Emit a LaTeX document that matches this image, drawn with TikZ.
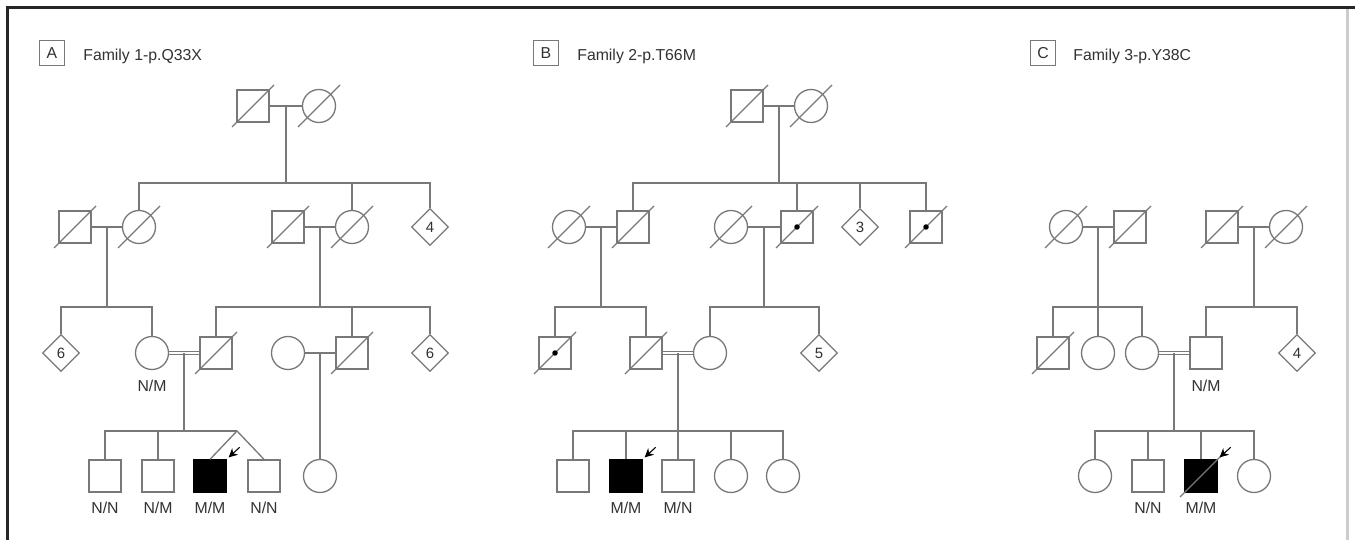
\documentclass[tikz,border=0pt]{standalone}
\usepackage{fontspec}
\setmainfont{Liberation Sans}
\usetikzlibrary{shapes.geometric,calc,arrows.meta}
\definecolor{lc}{RGB}{120,120,120}
\definecolor{tc}{RGB}{50,50,50}
\newcommand{\deadmark}[1]{\draw[ln] ($(#1)+(-21,21)$) -- ($(#1)+(21,-21)$);}
\newcommand{\carrierdot}[1]{\fill[black] (#1) circle[radius=0.055cm];}
\newcommand{\probarrow}[1]{\draw[black,line width=0.6pt,-{Stealth[length=5pt,width=5pt]}] ($(#1.north east)+(13,-12)$) -- ($(#1.north east)+(2,-2)$);}
\newcommand{\dblmar}[2]{\draw[ln,line width=0.55pt] ($(#1.east)+(0,-1.3)$) -- ($(#2.west)+(0,-1.3)$); \draw[ln,line width=0.55pt] ($(#1.east)+(0,1.3)$) -- ($(#2.west)+(0,1.3)$);}
\begin{document}
\begin{tikzpicture}[x=0.02cm,y=-0.02cm,
  ln/.style={draw=lc,line width=0.75pt},
  sq/.style={draw=lc,line width=0.75pt,rectangle,minimum size=0.64cm,inner sep=0pt},
  ci/.style={draw=lc,line width=0.75pt,circle,minimum size=0.66cm,inner sep=0pt},
  di/.style={draw=lc,line width=0.75pt,diamond,minimum size=0.74cm,inner sep=0pt,text=tc,font=\fontsize{8.5}{9}\selectfont},
  aff/.style={fill=black,draw=black},
  lab/.style={text=tc,font=\fontsize{9}{10}\selectfont,inner sep=0pt},
  pbox/.style={draw=lc,line width=0.6pt,minimum size=0.5cm,inner sep=0pt,text=tc,font=\fontsize{9}{10}\selectfont}]
\useasboundingbox (0,0) rectangle (1355,540);
\fill[white] (0,0) rectangle (1355,540);
% frame
\draw[black!85,line width=1.5pt] (7.3,540) -- (7.3,7.3) -- (1355,7.3);
\draw[black!20,line width=1.7pt] (1347,9) -- (1347,540);
% titles
\node[pbox] (bA) at (52,53) {A};
\node[lab,anchor=base west] (tA) at (83,61) {Family 1-p.Q33X};
\node[pbox] (bB) at (546,53) {B};
\node[lab,anchor=base west] (tB) at (577,61) {Family 2-p.T66M};
\node[pbox] (bC) at (1043,53) {C};
\node[lab,anchor=base west] (tC) at (1073,61) {Family 3-p.Y38C};
% level coordinates
\coordinate (y1) at (0,183);
\coordinate (y2) at (0,307);
\coordinate (y3) at (0,431);
%================ Panel A
\node[sq] (sA1) at (253,106) {};
\node[ci] (cA1) at (319,106) {};
\node[sq] (sA2) at (75,227) {};
\node[ci] (cA2) at (139,227) {};
\node[sq] (sA3) at (288,227) {};
\node[ci] (cA3) at (352,227) {};
\node[di] (dA1) at (430,227) {4};
\node[di] (dA2) at (61,353) {6};
\node[ci] (cA4) at (152,353) {};
\node[sq] (sA4) at (216,353) {};
\node[ci] (cA5) at (288,353) {};
\node[sq] (sA5) at (352,353) {};
\node[di] (dA3) at (430,353) {6};
\node[sq] (sA6) at (105,476) {};
\node[sq] (sA7) at (158,476) {};
\node[sq,aff] (sA8) at (210,476) {};
\node[sq] (sA9) at (264,476) {};
\node[ci] (cA6) at (320,476) {};
\node[lab,anchor=base] (lA1) at (152,391) {N/M};
\node[lab,anchor=base] (lA2) at (105,513) {N/N};
\node[lab,anchor=base] (lA3) at (158,513) {N/M};
\node[lab,anchor=base] (lA4) at (210,513) {M/M};
\node[lab,anchor=base] (lA5) at (264,513) {N/N};
% marriages
\draw[ln] (sA1) -- (cA1);
\draw[ln] (sA2) -- (cA2);
\draw[ln] (sA3) -- (cA3);
\dblmar{cA4}{sA4}
\draw[ln] (cA5) -- (sA5);
\coordinate (mA1) at ($(sA1)!0.5!(cA1)$);
\coordinate (mA2) at ($(sA2)!0.5!(cA2)$);
\coordinate (mA3) at ($(sA3)!0.5!(cA3)$);
\coordinate (mA4) at ($(cA4)!0.5!(sA4)$);
\coordinate (mA5) at ($(cA5)!0.5!(sA5)$);
% sibships
\draw[ln] (mA1) -- (mA1 |- y1);
\draw[ln] (cA2.north) -- (cA2.north |- y1) -- (dA1.north |- y1) -- (dA1.north);
\draw[ln] (cA3.north) -- (cA3.north |- y1);
\draw[ln] (mA2) -- (mA2 |- y2);
\draw[ln] (dA2.north) -- (dA2.north |- y2) -- (cA4.north |- y2) -- (cA4.north);
\draw[ln] (mA3) -- (mA3 |- y2);
\draw[ln] (sA4.north) -- (sA4.north |- y2) -- (dA3.north |- y2) -- (dA3.north);
\draw[ln] (sA5.north) -- (sA5.north |- y2);
\draw[ln] (mA4) -- (mA4 |- y3);
\coordinate (twA) at (237,431);
\draw[ln] (sA6.north) -- (sA6.north |- twA) -- (twA);
\draw[ln] (sA7.north) -- (sA7.north |- twA);
\draw[ln] (sA8.north) -- (twA) -- (sA9.north);
\draw[ln] (mA5) -- (cA6.north);
\foreach \n in {sA1,cA1,sA2,cA2,sA3,cA3,sA4,sA5} {\deadmark{\n}}
\probarrow{sA8}
%================ Panel B
\node[sq] (sB1) at (747,106) {};
\node[ci] (cB1) at (811,106) {};
\node[ci] (cB2) at (569,227) {};
\node[sq] (sB2) at (633,227) {};
\node[ci] (cB3) at (731,227) {};
\node[sq] (sB3) at (797,227) {};
\node[di] (dB1) at (860,227) {3};
\node[sq] (sB4) at (926,227) {};
\node[sq] (sB5) at (555,353) {};
\node[sq] (sB6) at (646,353) {};
\node[ci] (cB4) at (710,353) {};
\node[di] (dB2) at (819,353) {5};
\node[sq] (sB7) at (573,476) {};
\node[sq,aff] (sB8) at (626,476) {};
\node[sq] (sB9) at (678,476) {};
\node[ci] (cB5) at (731,476) {};
\node[ci] (cB6) at (783,476) {};
\node[lab,anchor=base] (lB1) at (626,513) {M/M};
\node[lab,anchor=base] (lB2) at (678,513) {M/N};
\draw[ln] (sB1) -- (cB1);
\draw[ln] (cB2) -- (sB2);
\draw[ln] (cB3) -- (sB3);
\dblmar{sB6}{cB4}
\coordinate (mB1) at ($(sB1)!0.5!(cB1)$);
\coordinate (mB2) at ($(cB2)!0.5!(sB2)$);
\coordinate (mB3) at ($(cB3)!0.5!(sB3)$);
\coordinate (mB4) at ($(sB6)!0.5!(cB4)$);
\draw[ln] (mB1) -- (mB1 |- y1);
\draw[ln] (sB2.north) -- (sB2.north |- y1) -- (sB4.north |- y1) -- (sB4.north);
\draw[ln] (sB3.north) -- (sB3.north |- y1);
\draw[ln] (dB1.north) -- (dB1.north |- y1);
\draw[ln] (mB2) -- (mB2 |- y2);
\draw[ln] (sB5.north) -- (sB5.north |- y2) -- (sB6.north |- y2) -- (sB6.north);
\draw[ln] (mB3) -- (mB3 |- y2);
\draw[ln] (cB4.north) -- (cB4.north |- y2) -- (dB2.north |- y2) -- (dB2.north);
\draw[ln] (mB4) -- (mB4 |- y3);
\draw[ln] (sB7.north) -- (sB7.north |- y3) -- (cB6.north |- y3) -- (cB6.north);
\draw[ln] (sB8.north) -- (sB8.north |- y3);
\draw[ln] (sB9.north) -- (sB9.north |- y3);
\draw[ln] (cB5.north) -- (cB5.north |- y3);
\foreach \n in {sB1,cB1,cB2,sB2,cB3,sB3,sB4,sB5,sB6} {\deadmark{\n}}
\foreach \n in {sB3,sB4,sB5} {\carrierdot{\n}}
\probarrow{sB8}
%================ Panel C
\node[ci] (cC1) at (1066,227) {};
\node[sq] (sC1) at (1130,227) {};
\node[sq] (sC2) at (1222,227) {};
\node[ci] (cC2) at (1286,227) {};
\node[sq] (sC3) at (1053,353) {};
\node[ci] (cC3) at (1098,353) {};
\node[ci] (cC4) at (1142,353) {};
\node[sq] (sC4) at (1206,353) {};
\node[di] (dC1) at (1297,353) {4};
\node[ci] (cC5) at (1095,476) {};
\node[sq] (sC5) at (1148,476) {};
\node[sq,aff] (sC6) at (1201,476) {};
\node[ci] (cC6) at (1254,476) {};
\node[lab,anchor=base] (lC1) at (1206,391) {N/M};
\node[lab,anchor=base] (lC2) at (1148,513) {N/N};
\node[lab,anchor=base] (lC3) at (1201,513) {M/M};
\draw[ln] (cC1) -- (sC1);
\draw[ln] (sC2) -- (cC2);
\dblmar{cC4}{sC4}
\coordinate (mC1) at ($(cC1)!0.5!(sC1)$);
\coordinate (mC2) at ($(sC2)!0.5!(cC2)$);
\coordinate (mC3) at ($(cC4)!0.5!(sC4)$);
\draw[ln] (mC1) -- (mC1 |- y2);
\draw[ln] (sC3.north) -- (sC3.north |- y2) -- (cC4.north |- y2) -- (cC4.north);
\draw[ln] (cC3.north) -- (cC3.north |- y2);
\draw[ln] (mC2) -- (mC2 |- y2);
\draw[ln] (sC4.north) -- (sC4.north |- y2) -- (dC1.north |- y2) -- (dC1.north);
\draw[ln] (mC3) -- (mC3 |- y3);
\draw[ln] (cC5.north) -- (cC5.north |- y3) -- (cC6.north |- y3) -- (cC6.north);
\draw[ln] (sC5.north) -- (sC5.north |- y3);
\draw[ln] (sC6.north) -- (sC6.north |- y3);
\foreach \n in {cC1,sC1,sC2,cC2,sC3,sC6} {\deadmark{\n}}
\probarrow{sC6}
\end{tikzpicture}
\end{document}
